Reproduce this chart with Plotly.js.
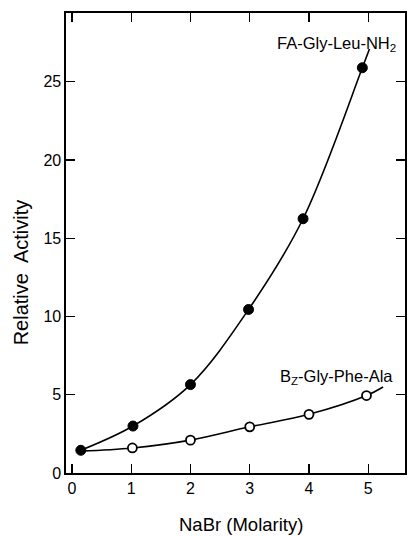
<!DOCTYPE html>
<html><head><meta charset="utf-8">
<script src="https://cdn.plot.ly/plotly-3.0.1.min.js"></script>
<style>html,body{margin:0;padding:0;background:#fff}#c{width:411px;height:536px}</style>
</head><body><div id="c"></div>
<script>
// Data
const faX = [0.15, 1.03, 2.0, 2.98, 3.9, 4.9];
const faY = [1.45, 3.0, 5.65, 10.45, 16.25, 25.9];
const bzX = [1.02, 2.0, 3.0, 4.0, 4.97];
const bzY = [1.6, 2.1, 2.95, 3.75, 4.95];
// Fitted curves
const faCurveX = [0.15, 1.03, 2.0, 2.98, 3.9, 4.9, 5.02];
const faCurveY = [1.45, 3.0, 5.65, 10.45, 16.25, 25.9, 27.1];
const bzCurveX = [0.15, 1.02, 2.0, 3.0, 4.0, 4.97, 5.25];
const bzCurveY = [1.4, 1.6, 2.1, 2.95, 3.75, 4.95, 5.5];
const xTicks = [0, 1, 2, 3, 4, 5];
const yTicks = [0, 5, 10, 15, 20, 25];
const labels = ['FA-Gly-Leu-NH<sub>2</sub>', 'B<sub>Z</sub>-Gly-Phe-Ala'];
const xTitle = 'NaBr (Molarity)';
const yTitle = 'Relative  Activity';

const font = 'Liberation Sans, Arial, sans-serif';
const traces = [
  {x: faCurveX, y: faCurveY, mode: 'lines', line: {color: '#000', width: 1.6, shape: 'spline'}, hoverinfo: 'skip'},
  {x: bzCurveX, y: bzCurveY, mode: 'lines', line: {color: '#000', width: 1.6, shape: 'spline'}, hoverinfo: 'skip'},
  {x: faX, y: faY, mode: 'markers', marker: {color: '#000', size: 10, line: {color: '#000', width: 1}}},
  {x: bzX, y: bzY, mode: 'markers', marker: {color: '#fff', size: 9, line: {color: '#000', width: 1.8}}}
];
const axisCommon = {
  showgrid: false, zeroline: false, showline: true, linecolor: '#000', linewidth: 1.6,
  mirror: 'ticks', ticks: 'inside', ticklen: 9, tickwidth: 1.3, tickcolor: '#000',
  tickfont: {family: font, size: 16, color: '#000'}
};
const layout = {
  width: 411, height: 536, margin: {l: 66, r: 6, t: 13, b: 63},
  paper_bgcolor: '#fff', plot_bgcolor: '#fff', showlegend: false,
  xaxis: Object.assign({}, axisCommon, {range: [-0.1, 5.62], tickvals: xTicks}),
  yaxis: Object.assign({}, axisCommon, {range: [0, 29.4], tickvals: yTicks}),
  annotations: [
    {x: 4.46, y: 27.4, xref: 'x', yref: 'y', text: labels[0], showarrow: false, font: {family: font, size: 16.5, color: '#000'}},
    {x: 4.46, y: 6.15, xref: 'x', yref: 'y', text: labels[1], showarrow: false, font: {family: font, size: 16.5, color: '#000'}},
    {x: 0.516, y: -0.113, xref: 'paper', yref: 'paper', xanchor: 'center', yanchor: 'middle', text: xTitle, showarrow: false, font: {family: font, size: 18.5, color: '#000'}},
    {x: -0.13, y: 0.436, xref: 'paper', yref: 'paper', xanchor: 'center', yanchor: 'middle', text: yTitle, textangle: -90, showarrow: false, font: {family: font, size: 20, color: '#000'}}
  ]
};
Plotly.newPlot('c', traces, layout, {displayModeBar: false, staticPlot: true});
</script></body></html>
